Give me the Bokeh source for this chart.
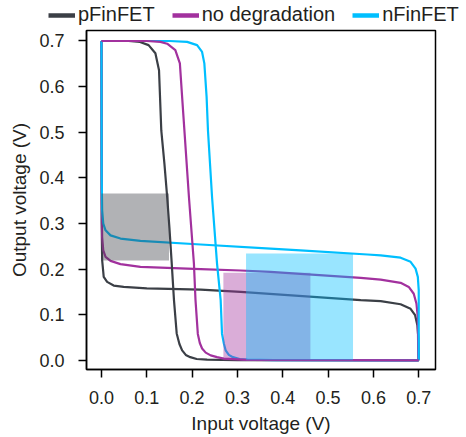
from bokeh.plotting import figure
from bokeh.layouts import column
from bokeh.models import Legend, LegendItem, FixedTicker, Range1d, PrintfTickFormatter
from bokeh.embed import file_html
from bokeh.resources import INLINE

# ---------------- data ----------------
series_names = ["pFinFET", "no degradation", "nFinFET"]
series_colors = ["#3b3f46", "#a2319e", "#00bfff"]

x_ticks = [0.0, 0.1, 0.2, 0.3, 0.4, 0.5, 0.6, 0.7]
y_ticks = [0.0, 0.1, 0.2, 0.3, 0.4, 0.5, 0.6, 0.7]

# transfer curves (Vin -> Vout)
p_vtc_x = [0.0, 0.06, 0.085, 0.104, 0.119, 0.127, 0.132, 0.139, 0.145, 0.150, 0.155, 0.160,
           0.166, 0.172, 0.178, 0.186, 0.196, 0.21, 0.233, 0.30, 0.70]
p_vtc_y = [0.700, 0.700, 0.698, 0.691, 0.673, 0.636, 0.504, 0.43, 0.358, 0.29, 0.213, 0.132,
           0.059, 0.036, 0.022, 0.012, 0.007, 0.003, 0.0015, 0.0005, 0.0]

m_vtc_x = [0.0, 0.10, 0.13, 0.145, 0.163, 0.173, 0.178, 0.183, 0.193, 0.204, 0.2075, 0.2126,
           0.217, 0.222, 0.230, 0.241, 0.255, 0.270, 0.32, 0.70]
m_vtc_y = [0.700, 0.700, 0.698, 0.694, 0.680, 0.651, 0.577, 0.504, 0.358, 0.212, 0.132, 0.058,
           0.038, 0.026, 0.017, 0.011, 0.007, 0.004, 0.001, 0.0]

n_vtc_x = [0.0, 0.15, 0.189, 0.211, 0.222, 0.227, 0.232, 0.235, 0.244, 0.255, 0.263, 0.266,
           0.270, 0.274, 0.281, 0.29, 0.305, 0.322, 0.38, 0.70]
n_vtc_y = [0.700, 0.700, 0.698, 0.691, 0.676, 0.651, 0.577, 0.504, 0.358, 0.212, 0.132, 0.058,
           0.037, 0.022, 0.012, 0.007, 0.003, 0.0015, 0.0005, 0.0]

# mirrored curves
p_mir_x = [0.0, 0.0005, 0.0015, 0.005, 0.0125, 0.027, 0.049, 0.10, 0.219, 0.307, 0.572, 0.616,
           0.660, 0.682, 0.692, 0.697, 0.699, 0.700]
p_mir_y = [0.700, 0.30, 0.22, 0.183, 0.172, 0.164, 0.161, 0.158, 0.155, 0.150, 0.132, 0.130,
           0.123, 0.113, 0.099, 0.077, 0.051, 0.0]

m_mir_x = [0.0, 0.0005, 0.0015, 0.004, 0.009, 0.020, 0.042, 0.086, 0.219, 0.307, 0.373, 0.572,
           0.616, 0.660, 0.678, 0.689, 0.695, 0.698, 0.699]
m_mir_y = [0.700, 0.35, 0.27, 0.241, 0.227, 0.218, 0.211, 0.205, 0.200, 0.197, 0.194, 0.181,
           0.177, 0.170, 0.161, 0.146, 0.124, 0.095, 0.0]

n_mir_x = [0.0, 0.0005, 0.0015, 0.004, 0.009, 0.020, 0.042, 0.086, 0.219, 0.373, 0.439, 0.587,
           0.616, 0.660, 0.682, 0.693, 0.698, 0.700, 0.700]
n_mir_y = [0.700, 0.40, 0.329, 0.300, 0.285, 0.274, 0.267, 0.262, 0.254, 0.245, 0.241, 0.232,
           0.230, 0.225, 0.216, 0.201, 0.183, 0.154, 0.0]

# shaded noise-margin boxes: left, right, bottom, top
box_left = [0.0, 0.269, 0.319]
box_right = [0.149, 0.461, 0.555]
box_bottom = [0.219, 0.0, 0.0]
box_top = [0.366, 0.192, 0.234]

# ---------------- figures ----------------
FONT = "Liberation Sans"
TXT = "#231f20"
NAN = float("nan")

# legend strip on top
lg = figure(width=466, height=28, output_backend="svg", toolbar_location=None,
            x_axis_type=None, y_axis_type=None,
            x_range=Range1d(0, 1), y_range=Range1d(0, 1),
            min_border_left=0, min_border_right=0, min_border_top=0, min_border_bottom=0,
            background_fill_color="white", border_fill_color="white")
lg.grid.visible = False
lg.outline_line_color = None
lg.frame_align = False

items = []
for name, c in zip(series_names, series_colors):
    r = lg.line(x=[NAN], y=[NAN], line_color=c, line_width=4.5)
    items.append(LegendItem(label=name, renderers=[r]))
legend = Legend(items=items, orientation="horizontal", location=(48, 2),
                padding=0, margin=0, spacing=17, label_standoff=3,
                glyph_width=27, glyph_height=20, label_height=20,
                label_text_font=FONT, label_text_font_size="20px", label_text_color=TXT,
                border_line_alpha=0, background_fill_alpha=0)
lg.add_layout(legend, "center")

# main chart
p = figure(width=466, height=409, output_backend="svg", toolbar_location=None,
           x_range=Range1d(-0.033, 0.737), y_range=Range1d(-0.020, 0.723),
           min_border_left=86, min_border_right=31, min_border_top=2, min_border_bottom=68,
           background_fill_color="white", border_fill_color="white")
p.frame_align = False

p.grid.visible = False
p.outline_line_color = "black"
p.outline_line_width = 1.5
p.outline_line_alpha = 1.0

# mirrored curves first (gray, magenta, cyan), then transfer curves (gray, cyan, magenta)
mirs = [(p_mir_x, p_mir_y), (m_mir_x, m_mir_y), (n_mir_x, n_mir_y)]
for (mx, my), c in zip(mirs, series_colors):
    p.line(mx, my, line_color=c, line_width=2.2, line_join="round")
vtcs = [(p_vtc_x, p_vtc_y, series_colors[0]), (n_vtc_x, n_vtc_y, series_colors[2]),
        (m_vtc_x, m_vtc_y, series_colors[1])]
for vx, vy, c in vtcs:
    p.line(vx, vy, line_color=c, line_width=2.2, line_join="round")

for l, r, b, t, c in zip(box_left, box_right, box_bottom, box_top, series_colors):
    p.quad(left=[l], right=[r], bottom=[b], top=[t], fill_color=c, fill_alpha=0.4,
           line_color=None)

for ax, ticks, lab in ((p.xaxis[0], x_ticks, "Input voltage (V)"),
                       (p.yaxis[0], y_ticks, "Output voltage (V)")):
    ax.ticker = FixedTicker(ticks=ticks, minor_ticks=[])
    ax.formatter = PrintfTickFormatter(format="%.1f")
    ax.axis_label = lab
    ax.axis_label_text_font = FONT
    ax.axis_label_text_font_size = "19px"
    ax.axis_label_text_font_style = "normal"
    ax.axis_label_text_color = TXT
    ax.major_label_text_font = FONT
    ax.major_label_text_font_size = "18px"
    ax.major_label_text_color = TXT
    ax.axis_line_width = 1.5
    ax.axis_line_color = "black"
    ax.major_tick_line_width = 1.5
    ax.major_tick_line_color = "black"
    ax.major_tick_in = 0
    ax.major_tick_out = 8
    ax.minor_tick_line_color = None

p.xaxis[0].major_label_standoff = 13
p.xaxis[0].axis_label_standoff = 6
p.yaxis[0].major_label_standoff = 14
p.yaxis[0].axis_label_standoff = 6

layout = column(lg, p, spacing=0)
open("out.html", "w").write(file_html(layout, INLINE))
